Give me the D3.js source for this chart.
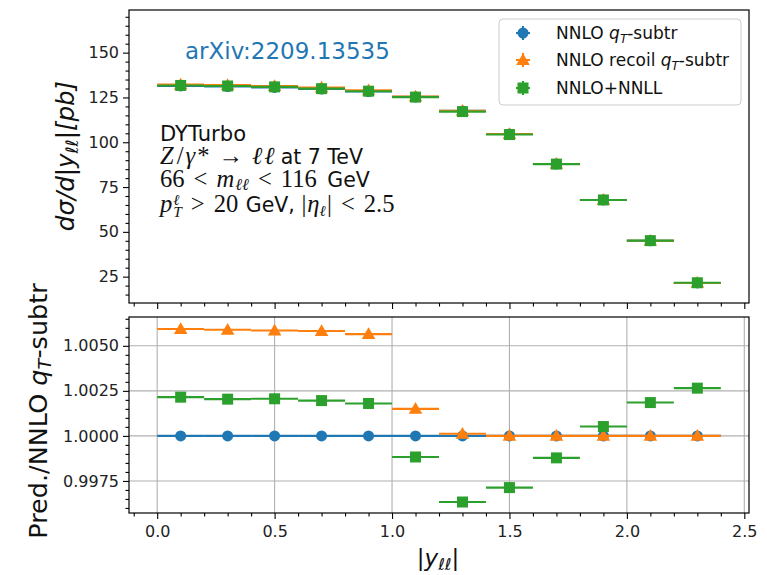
<!DOCTYPE html>
<html><head><meta charset="utf-8">
<script src="https://cdn.jsdelivr.net/npm/d3@7"></script>
<style>body{margin:0;background:#fff} text{white-space:pre}</style>
</head><body>
<script>
// ---------- data ----------
const binEdges = [0.0,0.2,0.4,0.6,0.8,1.0,1.2,1.4,1.6,1.8,2.0,2.2,2.4];
const binCenters = [0.1,0.3,0.5,0.7,0.9,1.1,1.3,1.5,1.7,1.9,2.1,2.3];
const nnloQt     = [131.4,131.1,130.6,129.7,128.3,125.3,117.5,104.6,87.9,67.8,45.0,21.5];
const nnloRecoil = [132.2,131.9,131.4,130.5,129.0,125.5,117.5,104.6,87.9,67.8,45.0,21.5];
const nnloNnll   = [131.7,131.4,130.9,129.9,128.5,125.2,117.1,104.3,87.8,67.8,45.1,21.6];
const ratioQt     = [1,1,1,1,1,1,1,1,1,1,1,1];
const ratioRecoil = [1.00593,1.00589,1.00585,1.00582,1.00565,1.00150,1.00012,1.0,1.0,1.0,1.0,1.0];
const ratioNnll   = [1.00215,1.00204,1.00206,1.00196,1.00180,0.99883,0.99633,0.99713,0.99878,1.00052,1.00185,1.00265];
const topTicks = [25,50,75,100,125,150];
const ratioTicks = [0.9975,1.0000,1.0025,1.0050];
const xTicks = [0.0,0.5,1.0,1.5,2.0,2.5];
const seriesNames = ["NNLO qT-subtr","NNLO recoil qT-subtr","NNLO+NNLL"];
const colors = ["#1f77b4","#ff7f0e","#2ca02c"];
const symbols = ["circle","triangle","square"];

// ---------- layout ----------
const W=767,H=575;
const L=129,R=749, T1=10,B1=303, T2=317,B2=513;
const SANS="DejaVu Sans", SERIF="Liberation Serif";
const svg=d3.select("body").append("svg").attr("width",W).attr("height",H);

const x=d3.scaleLinear().domain([-0.12,2.52]).range([L,R]);
const yTop=d3.scaleLinear().domain([10.3,173.8]).range([B1,T1]);
const yBot=d3.scaleLinear().domain([0.99572,1.0066]).range([B2,T2]);

const range=(a,b,s)=>{const o=[];for(let v=a;v<=b+1e-9;v+=s)o.push(+v.toFixed(6));return o;};
const xMinor=range(-0.1,2.5,0.1).filter(v=>Math.abs(v*2-Math.round(v*2))>1e-6);
const topMinor=range(15,170,5).filter(v=>v%25!==0);
const botMinor=range(0.996,1.0065,0.0005).filter(v=>!ratioTicks.some(t=>Math.abs(t-v)<1e-7));

function styleAxis(g,fs){g.select(".domain").remove();g.selectAll("line").attr("stroke","#000").attr("stroke-width",1.1);
  g.selectAll("text").attr("font-family",SANS).attr("font-size",fs).attr("fill","#222");}

const defs=svg.append("defs");
defs.append("clipPath").attr("id","c1").append("rect").attr("x",L).attr("y",T1).attr("width",R-L).attr("height",B1-T1);
defs.append("clipPath").attr("id","c2").append("rect").attr("x",L).attr("y",T2).attr("width",R-L).attr("height",B2-T2);

const grid=svg.append("g").attr("clip-path","url(#c2)");
grid.selectAll(".gx").data(xTicks).join("line").attr("x1",d=>x(d)).attr("x2",d=>x(d)).attr("y1",T2).attr("y2",B2).attr("stroke","#b0b0b0").attr("stroke-width",1.1);
grid.selectAll(".gy").data(ratioTicks).join("line").attr("x1",L).attr("x2",R).attr("y1",d=>yBot(d)).attr("y2",d=>yBot(d)).attr("stroke","#b0b0b0").attr("stroke-width",1.1);

const TF=16;
let g=svg.append("g").attr("transform",`translate(${L},0)`).call(d3.axisLeft(yTop).tickValues(topTicks).tickSize(6).tickPadding(4).tickFormat(d3.format("d")));styleAxis(g,TF);
g=svg.append("g").attr("transform",`translate(${L},0)`).call(d3.axisLeft(yTop).tickValues(topMinor).tickSize(3.5).tickFormat(""));styleAxis(g,TF);
g=svg.append("g").attr("transform",`translate(0,${B1})`).call(d3.axisBottom(x).tickValues(xTicks).tickSize(6).tickFormat(""));styleAxis(g,TF);
g=svg.append("g").attr("transform",`translate(0,${B1})`).call(d3.axisBottom(x).tickValues(xMinor).tickSize(3.5).tickFormat(""));styleAxis(g,TF);
g=svg.append("g").attr("transform",`translate(${L},0)`).call(d3.axisLeft(yBot).tickValues(ratioTicks).tickSize(6).tickPadding(4).tickFormat(d3.format(".4f")));styleAxis(g,TF);
g=svg.append("g").attr("transform",`translate(${L},0)`).call(d3.axisLeft(yBot).tickValues(botMinor).tickSize(3.5).tickFormat(""));styleAxis(g,TF);
g=svg.append("g").attr("transform",`translate(0,${B2})`).call(d3.axisBottom(x).tickValues(xTicks).tickSize(6).tickPadding(7).tickFormat(d3.format(".1f")));styleAxis(g,TF);
g=svg.append("g").attr("transform",`translate(0,${B2})`).call(d3.axisBottom(x).tickValues(xMinor).tickSize(3.5).tickFormat(""));styleAxis(g,TF);

// ---------- marks ----------
function symPath(type){
  if(type==="circle") return d3.symbol(d3.symbolCircle,95)();
  if(type==="square") return d3.symbol(d3.symbolSquare,121)();
  return d3.symbol(d3.symbolTriangle,80)();
}
function drawSeries(yS,vals,i,clip){
  const gg=svg.append("g").attr("clip-path",`url(#${clip})`);
  gg.selectAll("line.h").data(vals).join("line")
    .attr("x1",(d,k)=>x(binEdges[k])).attr("x2",(d,k)=>x(binEdges[k+1]))
    .attr("y1",d=>yS(d)).attr("y2",d=>yS(d))
    .attr("stroke",colors[i]).attr("stroke-width",2.1);
  gg.selectAll("path.m").data(vals).join("path")
    .attr("d",symPath(symbols[i]))
    .attr("transform",(d,k)=>`translate(${x(binCenters[k])},${yS(d)+(symbols[i]==="triangle"?1:0)})`)
    .attr("fill",colors[i]);
}
[nnloQt,nnloRecoil,nnloNnll].forEach((v,i)=>drawSeries(yTop,v,i,"c1"));
[ratioQt,ratioRecoil,ratioNnll].forEach((v,i)=>drawSeries(yBot,v,i,"c2"));

[[T1,B1],[T2,B2]].forEach(([t,b])=>svg.append("rect").attr("x",L).attr("y",t).attr("width",R-L).attr("height",b-t).attr("fill","none").attr("stroke","#000").attr("stroke-width",1.2));

// ---------- rich text helper ----------
function rich(parent,runs,x0,y0,size,anchor){
  const gg=parent.append("g");
  let cx=0;
  runs.forEach(r=>{
    const fs=size*(r.s||1);
    const t=gg.append("text").attr("x",cx).attr("y",r.dy||0).text(r.t)
      .attr("xml:space","preserve")
      .attr("font-family",r.f==="sans"||r.f==="sansI"?SANS:SERIF)
      .attr("font-style",(r.f==="serifI"||r.f==="sansI")?"italic":"normal")
      .attr("font-size",fs).attr("fill",r.c||"#111");
    const w=t.node().getComputedTextLength();
    if(r.adv!==false) cx+=w+(r.dx||0);
  });
  const off=anchor==="middle"?-cx/2:0;
  gg.attr("transform",`translate(${x0+off},${y0})`);
  return gg;
}

svg.append("text").attr("x",185).attr("y",59).text("arXiv:2209.13535").attr("font-family",SANS).attr("font-size",23).attr("fill","#1f77b4");
const A=20.5, M=1.2, S=9;
rich(svg,[{t:"DYTurbo",f:"sans",s:1.03}],160,141,A);
rich(svg,[{t:"Z",f:"serifI",s:M,dx:3},{t:"/",f:"serif",s:M,dx:2},{t:"γ",f:"serifI",s:M,dx:2},{t:"*",f:"serif",s:M,dx:S},{t:"→",f:"serif",s:M,dx:S},{t:"ℓ",f:"serifI",s:M,dx:2},{t:"ℓ",f:"serifI",s:M,dx:6},{t:"at 7 TeV",f:"sans"}],160,164,A);
rich(svg,[{t:"66",f:"serif",s:M,dx:S},{t:"<",f:"serif",s:M,dx:S},{t:"m",f:"serifI",s:M,dx:1},{t:"ℓℓ",f:"serifI",s:0.8,dy:3,dx:S},{t:"<",f:"serif",s:M,dx:S},{t:"116",f:"serif",s:M,dx:4},{t:" GeV",f:"sans"}],160,187,A);
rich(svg,[{t:"p",f:"serifI",s:M,dx:1},{t:"ℓ",f:"serifI",s:0.75,dy:-7,adv:false},{t:"T",f:"serifI",s:0.75,dy:5,dx:S},{t:">",f:"serif",s:M,dx:S},{t:"20",f:"serif",s:M,dx:1},{t:" GeV, ",f:"sans"},{t:"|",f:"serif",s:M,dx:1},{t:"η",f:"serifI",s:M},{t:"ℓ",f:"serifI",s:0.75,dy:4,dx:1},{t:"|",f:"serif",s:M,dx:S},{t:"<",f:"serif",s:M,dx:S},{t:"2.5",f:"serif",s:M}],160,212,A);

// legend
svg.append("rect").attr("x",499).attr("y",19).attr("width",242).attr("height",86).attr("rx",4)
  .attr("fill","#fff").attr("fill-opacity",0.8).attr("stroke","#cccccc").attr("stroke-width",1);
const legRows=[33,60,88];
const legText=[
  [{t:"NNLO ",f:"sans"},{t:"q",f:"sansI"},{t:"T",f:"sansI",s:0.7,dy:4},{t:"-subtr",f:"sans"}],
  [{t:"NNLO recoil ",f:"sans"},{t:"q",f:"sansI"},{t:"T",f:"sansI",s:0.7,dy:4},{t:"-subtr",f:"sans"}],
  [{t:"NNLO+NNLL",f:"sans"}]
];
seriesNames.forEach((n,i)=>{
  const cy=legRows[i], cx=523;
  svg.append("line").attr("x1",cx-7).attr("x2",cx+7).attr("y1",cy).attr("y2",cy).attr("stroke",colors[i]).attr("stroke-width",2.1);
  svg.append("line").attr("x1",cx).attr("x2",cx).attr("y1",cy-7).attr("y2",cy+7).attr("stroke",colors[i]).attr("stroke-width",2.1);
  svg.append("path").attr("d",symPath(symbols[i])).attr("transform",`translate(${cx},${cy+(symbols[i]==="triangle"?1:0)})`).attr("fill",colors[i]);
  rich(svg,legText[i],556,cy+6,17);
});

// axis labels
const yl1=svg.append("g").attr("transform","translate(74,156) rotate(-90)");
rich(yl1,[{t:"dσ/d|y",f:"sansI"},{t:"ℓℓ",f:"sansI",s:0.7,dy:4},{t:"|[pb]",f:"sansI"}],0,0,24.5,"middle");
const yl2=svg.append("g").attr("transform","translate(47,411) rotate(-90)");
rich(yl2,[{t:"Pred./NNLO ",f:"sans"},{t:"q",f:"sansI"},{t:"T",f:"sansI",s:0.7,dy:4},{t:"-subtr",f:"sans"}],0,0,25.5,"middle");
rich(svg,[{t:"|y",f:"sansI"},{t:"ℓℓ",f:"sansI",s:0.7,dy:4},{t:"|",f:"sansI"}],438,566,23,"middle");
</script>
</body></html>
